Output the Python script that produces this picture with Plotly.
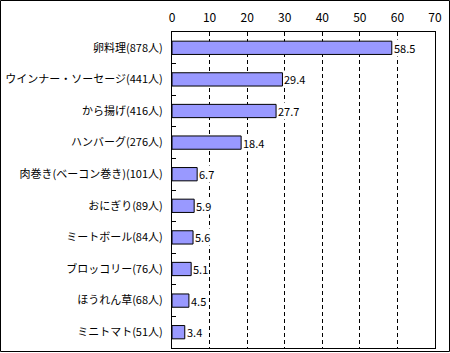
import plotly.graph_objects as go

categories = ["卵料理(878人)", "ウインナー・ソーセージ(441人)", "から揚げ(416人)", "ハンバーグ(276人)",
              "肉巻き(ベーコン巻き)(101人)", "おにぎり(89人)", "ミートボール(84人)", "ブロッコリー(76人)",
              "ほうれん草(68人)", "ミニトマト(51人)"]
values = [58.5, 29.4, 27.7, 18.4, 6.7, 5.9, 5.6, 5.1, 4.5, 3.4]
x_ticks = [0, 10, 20, 30, 40, 50, 60, 70]

W, H = 450, 353
L, R, T, B = 172, 15, 32, 5
pw, ph = W - L - R, H - T - B
FONT = "Noto Sans CJK JP"

fig = go.Figure(go.Bar(
    x=values, y=categories, orientation="h",
    marker=dict(color="#9999FF", line=dict(color="black", width=1)),
    width=0.42,
))

for c, v in zip(categories, values):
    fig.add_annotation(x=v, y=c, xref="x", yref="y", text=f"{v:.1f}", showarrow=False,
                       xanchor="left", yanchor="middle", xshift=1, bgcolor="white",
                       borderpad=0, font=dict(size=11, color="black", family=FONT))

fig.update_layout(
    width=W, height=H, margin=dict(l=L, r=R, t=T, b=B),
    paper_bgcolor="white", plot_bgcolor="white",
    showlegend=False, font=dict(family=FONT, color="black"),
    xaxis=dict(side="top", range=[0, 70], tickvals=x_ticks, showline=True, mirror=True,
               linecolor="black", linewidth=1, showgrid=True, gridcolor="black",
               gridwidth=1, griddash="4px,3px", ticks="", zeroline=False,
               tickfont=dict(size=12), ticklabelstandoff=4),
    yaxis=dict(categoryorder="array", categoryarray=categories, autorange="reversed",
               showline=True, mirror=True, linecolor="black", linewidth=1, showgrid=False,
               tickson="boundaries", ticks="inside", ticklen=4, tickcolor="black",
               tickfont=dict(size=11), ticklabelstandoff=6),
    shapes=[dict(type="rect", xref="paper", yref="paper",
                 x0=(0.5 - L) / pw, x1=(W - 0.5 - L) / pw,
                 y0=-(B - 1.5) / ph, y1=(ph + T - 0.5) / ph,
                 line=dict(color="black", width=1), layer="above")],
)

fig.write_html("out.html")
